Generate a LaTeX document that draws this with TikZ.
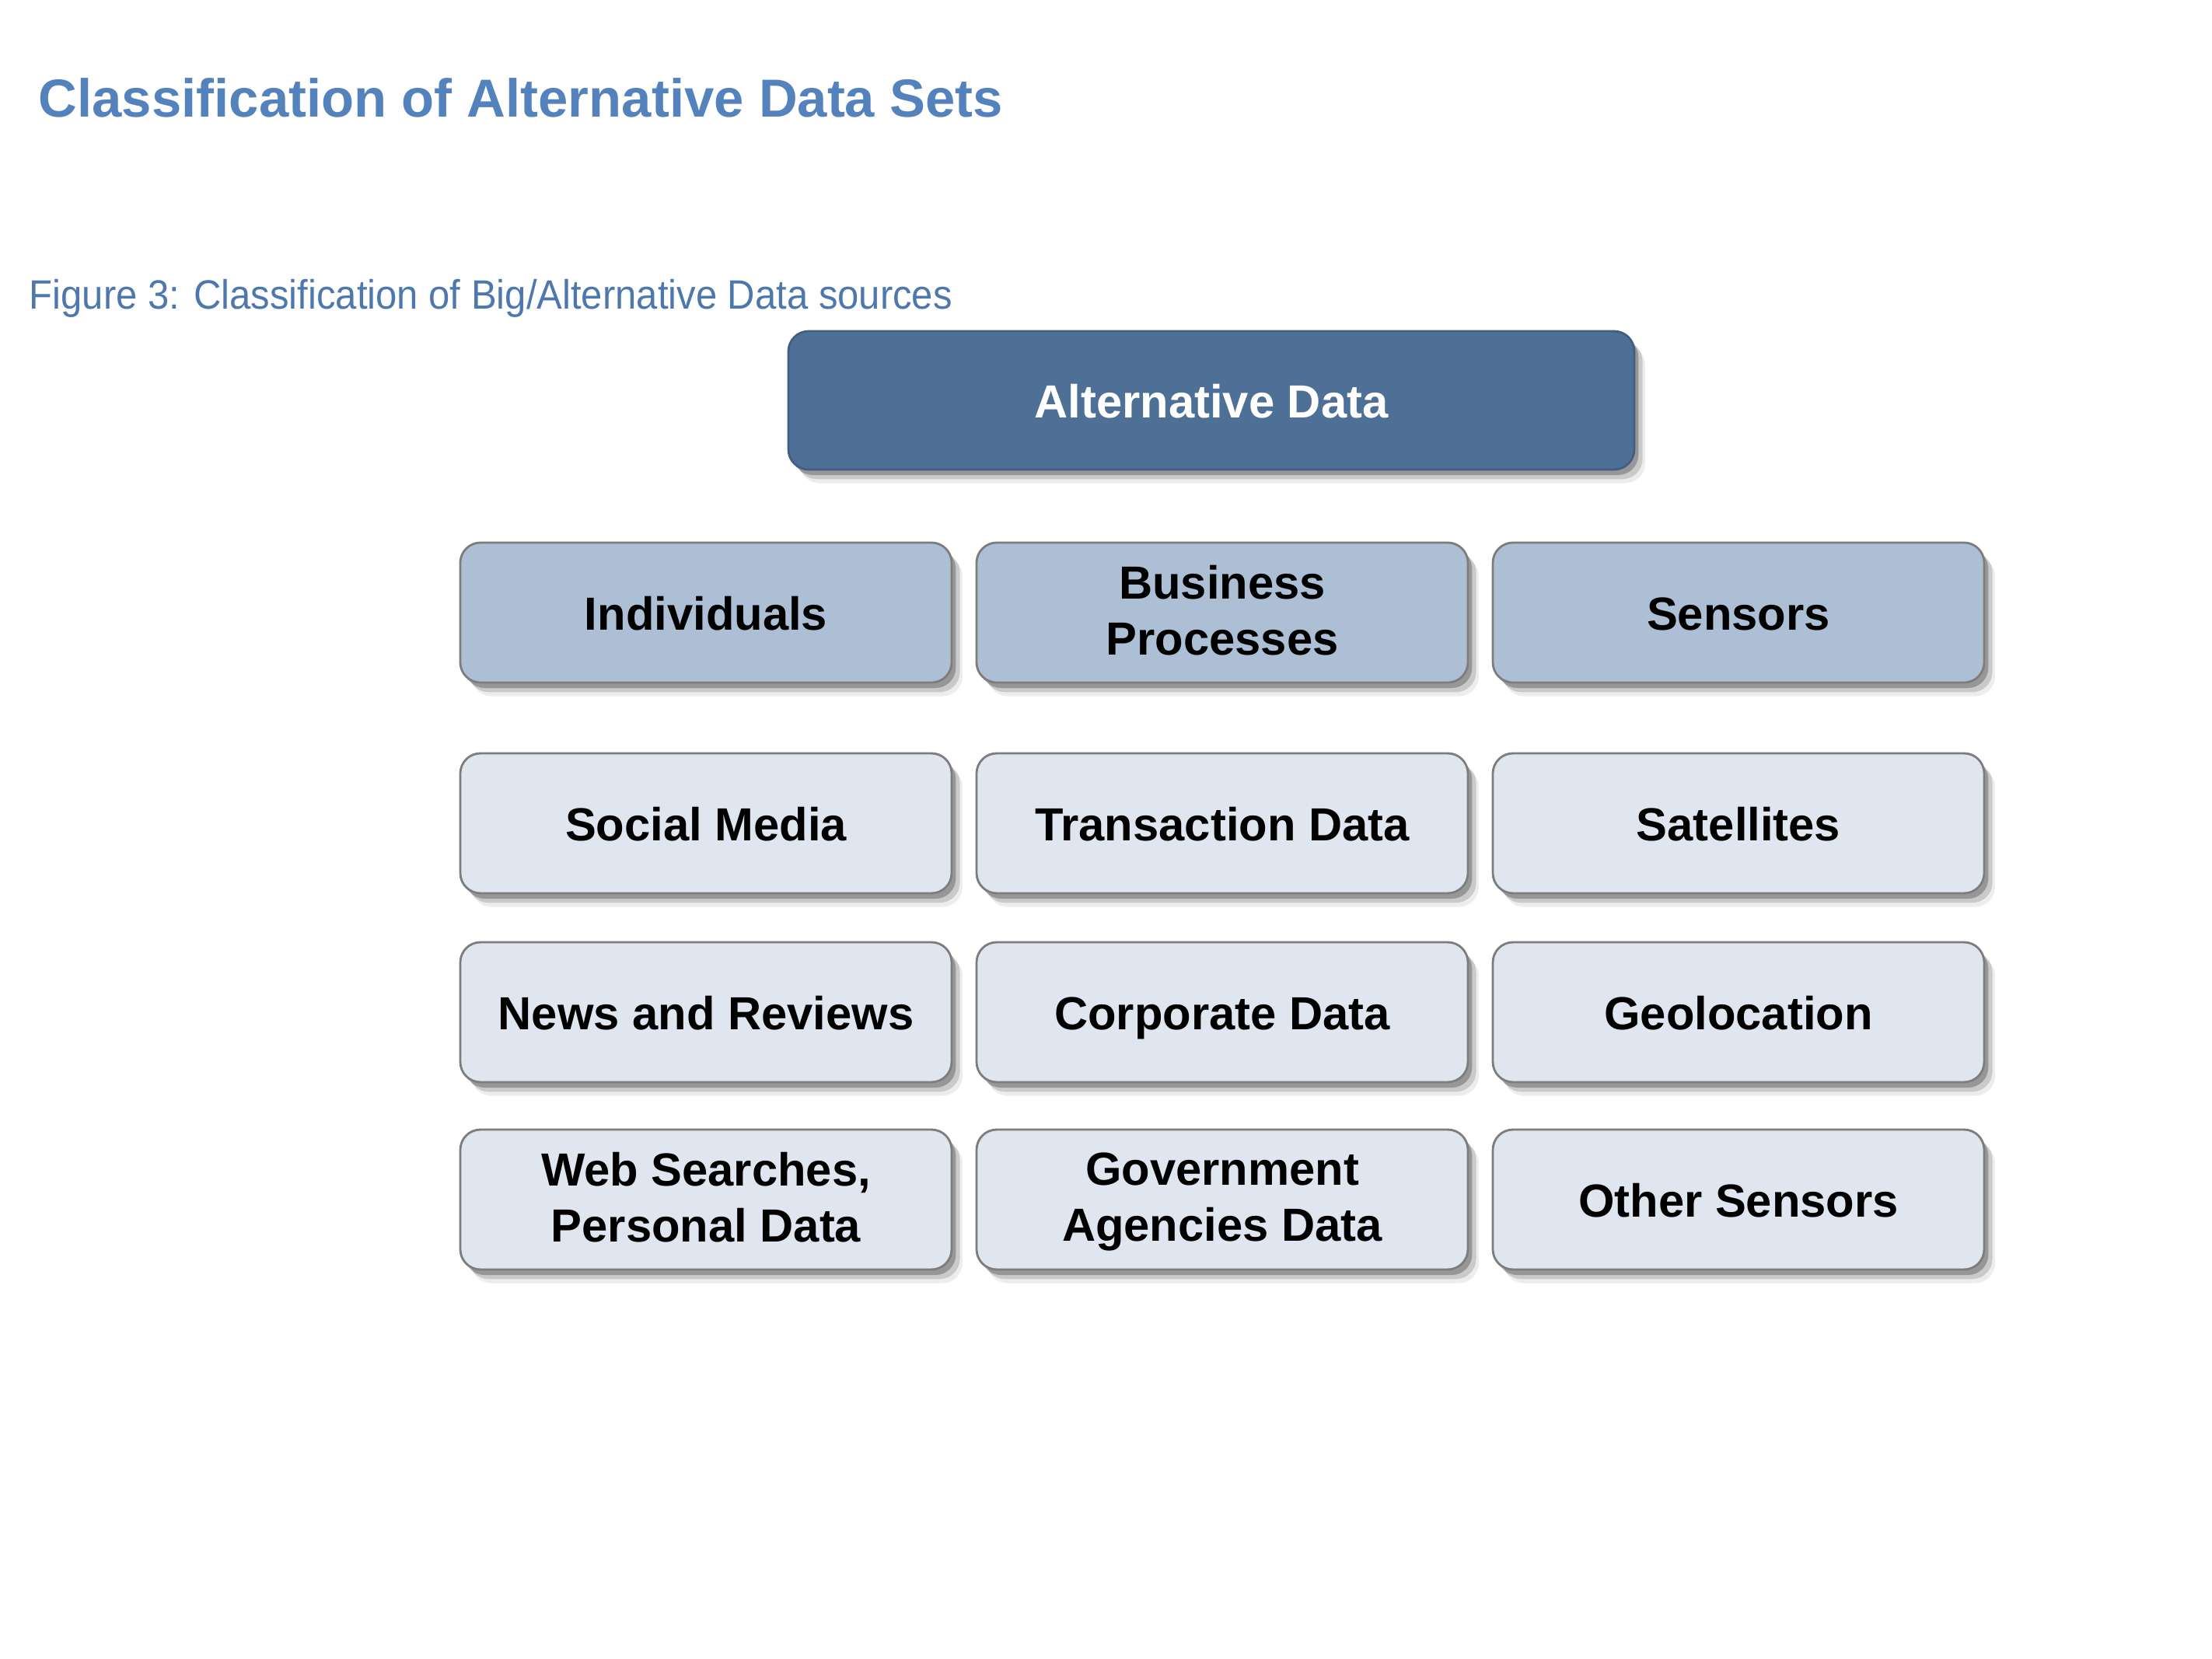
\documentclass[tikz,border=0pt]{standalone}
\usepackage{fontspec}
\setmainfont{Liberation Sans}
\newfontfamily\capfont[FakeStretch=0.93]{Liberation Sans}
\usepackage{tikz}
\usetikzlibrary{shadows,positioning}

\definecolor{titleblue}{RGB}{84,130,189}
\definecolor{topfill}{RGB}{79,112,150}
\definecolor{midfill}{RGB}{173,191,212}
\definecolor{lowfill}{RGB}{224,230,240}
\definecolor{edgegray}{RGB}{125,125,125}
\newcommand{\boxstrut}{\rule[-0.32em]{0pt}{1.38em}}

\begin{document}
\begin{tikzpicture}
	\tikzstyle{soft_shadow} = [drop shadow={shadow xshift=1.5pt, shadow yshift=-2pt, fill=black, opacity=0.25},
		drop shadow={shadow xshift=3pt, shadow yshift=-3.5pt, fill=black, opacity=0.15},
		drop shadow={shadow xshift=4pt, shadow yshift=-5pt, fill=black, opacity=0.07}]
	\tikzstyle{cat_box} = [rectangle, rounded corners=0.26cm, draw=edgegray, line width=0.8pt, soft_shadow,
		minimum width=6.32cm, minimum height=1.80cm, align=center, inner sep=2pt,
		font=\fontsize{17}{20.5}\selectfont\bfseries,
		execute at begin node=\boxstrut, execute at end node=\boxstrut]
	\tikzstyle{two_line} = [text depth=1.8pt]
	\tikzstyle{source_box} = [cat_box, fill=lowfill]
	\tikzstyle{group_box} = [cat_box, fill=midfill]
	\tikzstyle{root_box} = [cat_box, fill=topfill, draw=topfill!85!black, text=white, minimum width=10.88cm, minimum height=1.78cm]

	% page frame
	\useasboundingbox (0,0) rectangle (28.45,-21.34);

	% Headings
	\node (title) [anchor=base west, inner sep=0pt, text=titleblue, font=\fontsize{19.6}{23}\selectfont\bfseries]
		at (0.49,-1.51) {Classification of Alternative Data Sets};
	\node (caption) [anchor=base west, inner sep=0pt, text=titleblue!92!black, font=\capfont\fontsize{15}{18}\selectfont]
		at (0.37,-3.98) {Figure 3: Classification of Big/Alternative Data sources};

	% Root
	\node (alt) [root_box] at (15.58,-5.15) {Alternative Data};

	% Groups
	\node (indiv) [group_box] at (9.08,-7.88) {Individuals};
	\node (business) [group_box, two_line] at (15.72,-7.88) {Business\\Processes};
	\node (sensors) [group_box] at (22.36,-7.88) {Sensors};

	% Sources: individuals
	\node (social) [source_box] at (9.08,-10.59) {Social Media};
	\node (news) [source_box] at (9.08,-13.02) {News and Reviews};
	\node (web) [source_box, two_line] at (9.08,-15.43) {Web Searches,\\Personal Data};

	% Sources: business processes
	\node (trans) [source_box] at (15.72,-10.59) {Transaction Data};
	\node (corp) [source_box] at (15.72,-13.02) {Corporate Data};
	\node (gov) [source_box, two_line] at (15.72,-15.43) {Government\\Agencies Data};

	% Sources: sensors
	\node (sat) [source_box] at (22.36,-10.59) {Satellites};
	\node (geo) [source_box] at (22.36,-13.02) {Geolocation};
	\node (other) [source_box] at (22.36,-15.43) {Other Sensors};
\end{tikzpicture}
\end{document}
